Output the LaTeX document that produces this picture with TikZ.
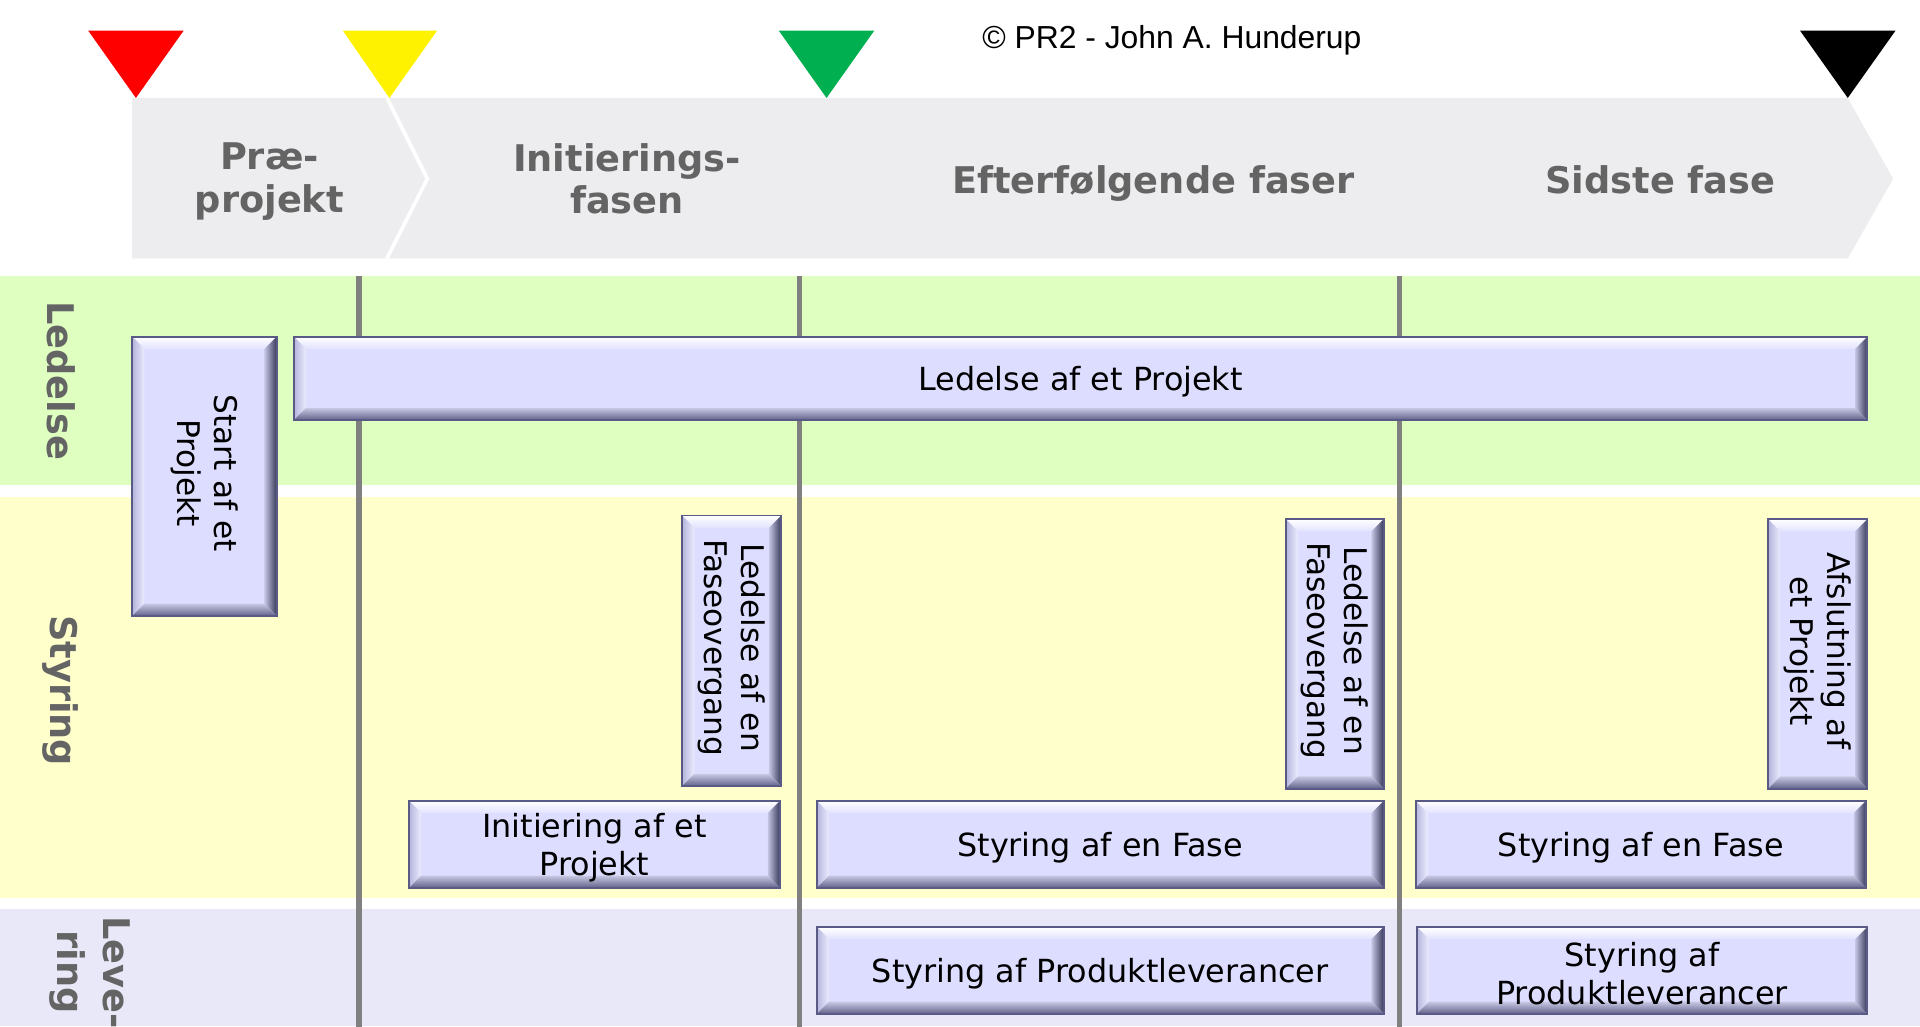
\documentclass[tikz,border=0pt]{standalone}
\usepackage{fontspec}
\setmainfont{DejaVu Sans}
\newfontfamily\arialf{Liberation Sans}
\usetikzlibrary{calc}
\definecolor{bandgray}{HTML}{EDEDF0}
\definecolor{headgray}{HTML}{646464}
\definecolor{lanegreen}{HTML}{DEFFC0}
\definecolor{laneyellow}{HTML}{FFFFCC}
\definecolor{lanelav}{HTML}{E8E8F8}
\definecolor{linegray}{HTML}{808080}
\definecolor{boxfill}{HTML}{DDDDFF}
\definecolor{boxedge}{HTML}{5A5A86}
\definecolor{flaggreen}{HTML}{00B050}
\definecolor{bevtop}{HTML}{E2E2FF}
\definecolor{bevleftA}{HTML}{B4B4DC}
\definecolor{bevleftB}{HTML}{ECECFF}
\definecolor{bevrightA}{HTML}{C4C4E4}
\definecolor{bevrightB}{HTML}{383858}
\definecolor{bevbotA}{HTML}{C8C8E4}
\definecolor{bevbotB}{HTML}{62628A}
\newcommand\bxfont{\fontsize{26}{31}\selectfont}
\newcommand\vbxfont{\fontsize{25.5}{30}\selectfont}
\newcommand\hdfont{\bfseries\fontsize{30}{35}\selectfont}
\newcommand\lnfont{\bfseries\fontsize{30}{37}\selectfont}
\tikzset{
  bevel/.style={rectangle, draw=boxedge, line width=1.6pt, fill=boxfill, inner sep=0pt,
    path picture={
      \def\bevw{10pt}
      \path (path picture bounding box.south west) coordinate (bSW)
            (path picture bounding box.north east) coordinate (bNE)
            (path picture bounding box.north west) coordinate (bNW)
            (path picture bounding box.south east) coordinate (bSE);
      \shade[top color=white, bottom color=bevtop]
        (bNW) -- (bNE) -- ([shift={(-\bevw,-\bevw)}]bNE) -- ([shift={(\bevw,-\bevw)}]bNW) -- cycle;
      \shade[left color=bevleftA, right color=bevleftB]
        (bNW) -- ([shift={(\bevw,-\bevw)}]bNW) -- ([shift={(\bevw,\bevw)}]bSW) -- (bSW) -- cycle;
      \shade[left color=bevrightA, right color=bevrightB]
        (bNE) -- (bSE) -- ([shift={(-\bevw,\bevw)}]bSE) -- ([shift={(-\bevw,-\bevw)}]bNE) -- cycle;
      \shade[top color=bevbotA, bottom color=bevbotB]
        (bSW) -- (bSE) -- ([shift={(-\bevw,\bevw)}]bSE) -- ([shift={(\bevw,\bevw)}]bSW) -- cycle;
    }},
  boxtxt/.style={font=\bxfont, align=center, inner sep=0pt, text=black, yshift=-3pt},
  vtxt/.style={font=\vbxfont, align=center, inner sep=0pt, text=black, rotate=-90, xshift=-2.5pt},
  heading/.style={font=\hdfont, text=headgray, align=center, inner sep=0pt},
  lanelbl/.style={font=\lnfont, text=headgray, align=center, inner sep=0pt, rotate=-90},
  phaseline/.style={draw=linegray, line width=4.5pt},
}
\begin{document}
\begin{tikzpicture}[x=1pt,y=-1pt]
\useasboundingbox (0,0) rectangle (1568,838);
\fill[white] (0,0) rectangle (1568,838);

% lanes
\fill[lanegreen] (0,225) rectangle (1568,396);
\fill[laneyellow] (0,406) rectangle (1568,733);
\fill[lanelav] (0,742) rectangle (1568,838);

% phase band
\fill[bandgray] (108,80) -- (1509,80) -- (1546,146) -- (1509,211) -- (108,211) -- cycle;
\draw[white, line width=3pt] (316,80) -- (349,146) -- (316,211);

% flags
\fill[red] (72,25) -- (150,25) -- (111,80) -- cycle;
\fill[yellow] (280,25) -- (357,25) -- (318,80) -- cycle;
\fill[flaggreen] (636,25) -- (714,25) -- (675,80) -- cycle;
\fill[black] (1470,25) -- (1548,25) -- (1509,80) -- cycle;

% copyright
\node[font=\arialf\fontsize{26}{30}\selectfont, inner sep=0pt] (copy) at (957,33) {© PR2 - John A. Hunderup};

% headings
\node[heading] (h1) at (220,148.5) {Præ-\\projekt};
\node[heading] (h2) at (512,146) {Initierings-\\fasen};
\node[heading] (h3) at (942,150) {Efterfølgende faser};
\node[heading] (h4) at (1356,147) {Sidste fase};

% lane labels
\node[lanelbl] (l1) at (50,311) {Ledelse};
\node[lanelbl] (l2) at (49,564) {Styring};
\node[lanelbl] (l3) at (73.5,794) {Leve-\\ring};

% phase lines
\coordinate (p1t) at (293,225); \coordinate (p1b) at (293,840);
\coordinate (p2t) at (653,225); \coordinate (p2b) at (653,840);
\coordinate (p3t) at (1143,225); \coordinate (p3b) at (1143,840);
\draw[phaseline] (p1t) -- (p1b);
\draw[phaseline] (p2t) -- (p2b);
\draw[phaseline] (p3t) -- (p3b);

% boxes
\node[bevel, minimum width=118pt, minimum height=228pt] (start) at (167,389) {};
\node[vtxt] (startT) at (start.center) {Start af et\\Projekt};

\node[bevel, minimum width=1285pt, minimum height=68pt] (ledproj) at (882.5,309) {};
\node[boxtxt] (ledprojT) at (ledproj.center) {Ledelse af et Projekt};

\node[bevel, minimum width=81pt, minimum height=221pt] (fase1) at (597.5,531.5) {};
\node[vtxt] (fase1T) at (fase1.center) {Ledelse af en\\Faseovergang};

\node[bevel, minimum width=80pt, minimum height=220pt] (fase2) at (1090,534) {};
\node[vtxt] (fase2T) at (fase2.center) {Ledelse af en\\Faseovergang};

\node[bevel, minimum width=81pt, minimum height=220pt] (afslut) at (1484.5,534) {};
\node[vtxt] (afslutT) at (afslut.center) {Afslutning af\\et Projekt};

\node[bevel, minimum width=303pt, minimum height=71pt] (init) at (485.5,689.5) {};
\node[boxtxt] (initT) at (init.center) {Initiering af et\\Projekt};

\node[bevel, minimum width=463pt, minimum height=71pt] (styr1) at (898.5,689.5) {};
\node[boxtxt] (styr1T) at (styr1.center) {Styring af en Fase};

\node[bevel, minimum width=368pt, minimum height=71pt] (styr2) at (1340,689.5) {};
\node[boxtxt] (styr2T) at (styr2.center) {Styring af en Fase};

\node[bevel, minimum width=463pt, minimum height=71pt] (prod1) at (898.5,792.5) {};
\node[boxtxt] (prod1T) at (prod1.center) {Styring af Produktleverancer};

\node[bevel, minimum width=368pt, minimum height=71pt] (prod2) at (1341,792.5) {};
\node[boxtxt] (prod2T) at (prod2.center) {Styring af\\Produktleverancer};
\end{tikzpicture}
\end{document}
